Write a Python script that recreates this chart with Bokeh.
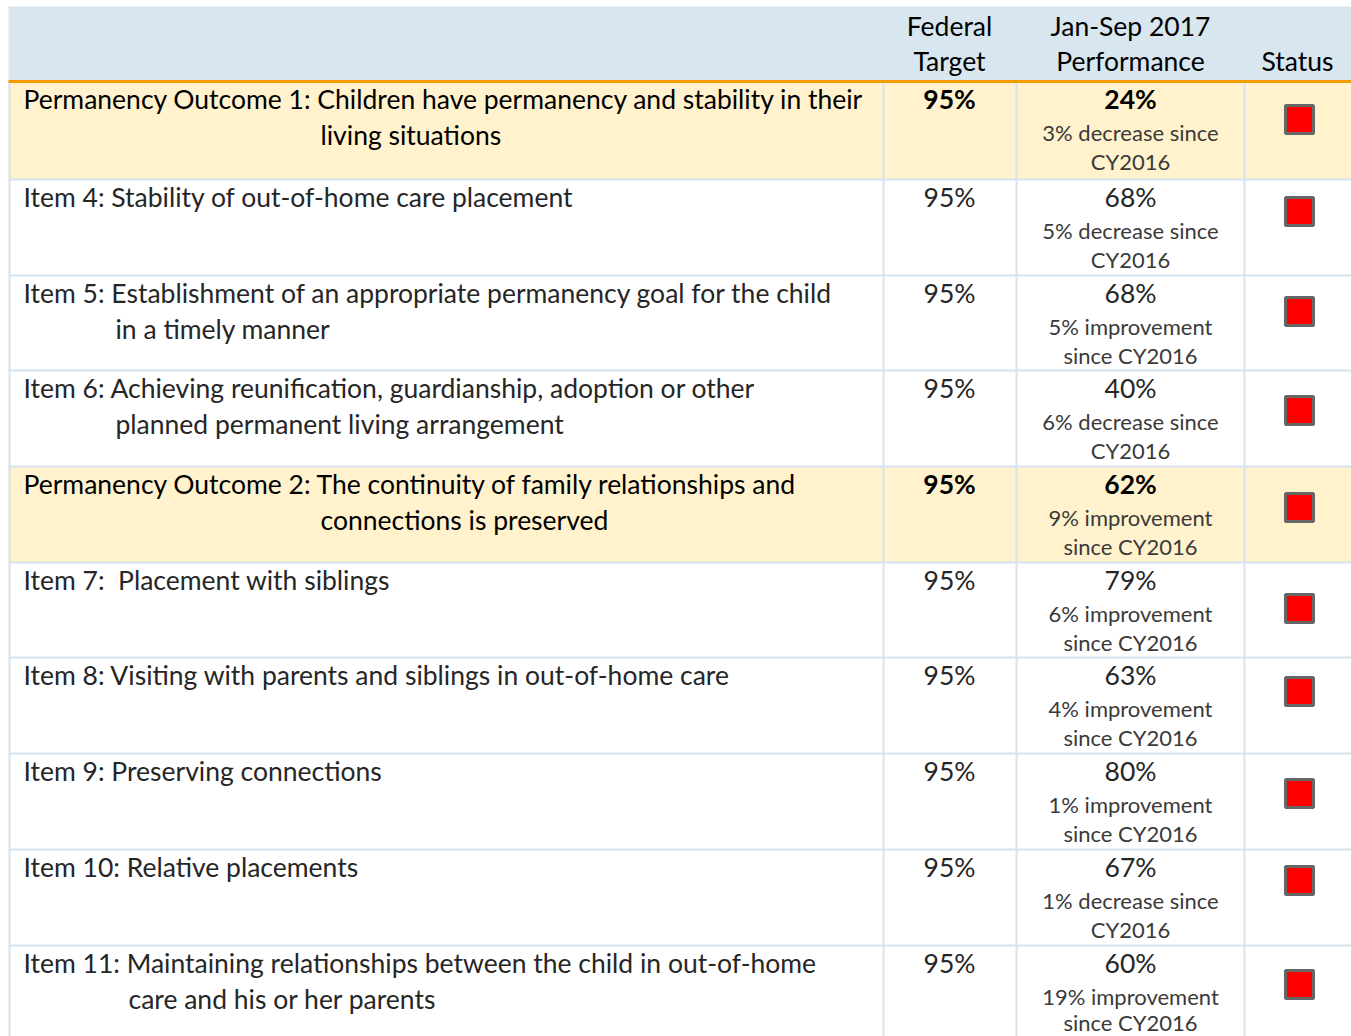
from bokeh.plotting import figure
from bokeh.models import Range1d, ColumnDataSource
from bokeh.core.properties import value
from bokeh.embed import file_html
from bokeh.resources import INLINE

# ---------------- data ----------------
header_cols = [["Federal", "Target"], ["Jan-Sep 2017", "Performance"], ["Status"]]

row_lines = [
    ["Permanency Outcome 1: Children have permanency and stability in their", "living situations"],
    ["Item 4: Stability of out-of-home care placement"],
    ["Item 5: Establishment of an appropriate permanency goal for the child", "in a timely manner"],
    ["Item 6: Achieving reunification, guardianship, adoption or other", "planned permanent living arrangement"],
    ["Permanency Outcome 2: The continuity of family relationships and", "connections is preserved"],
    ["Item 7:\u00a0 Placement with siblings"],
    ["Item 8: Visiting with parents and siblings in out-of-home care"],
    ["Item 9: Preserving connections"],
    ["Item 10: Relative placements"],
    ["Item 11: Maintaining relationships between the child in out-of-home", "care and his or her parents"],
]
is_outcome = [True, False, False, False, True, False, False, False, False, False]
federal_target = [95, 95, 95, 95, 95, 95, 95, 95, 95, 95]
performance = [24, 68, 68, 40, 62, 79, 63, 80, 67, 60]
change_pct = [3, 5, 5, 6, 9, 6, 4, 1, 1, 19]
change_dir = ["decrease", "decrease", "improvement", "decrease", "improvement",
              "improvement", "improvement", "improvement", "decrease", "improvement"]
status = ["red"] * 10

# ---------------- layout ----------------
FONT = "Lato"
W, H = 1351, 1036
X0, X1 = 8, 1351
col_edges = [8, 883, 1016, 1244]
header_top, header_bottom = 6, 81
row_heights = [98, 96, 95, 96, 96, 95, 96, 96, 96, 100]
indent2 = [320, None, 115, 115, 320, None, None, None, None, 128]
status_off = [38, 32, 36, 40, 41, 46, 34, 40, 31, 39]

BLUE_BG = "#d7e6ef"
GRID = "#d5e4ee"
YELLOW = "#fff2cc"
ORANGE = "#f59a00"

row_tops = []
t = header_bottom
for h in row_heights:
    row_tops.append(t)
    t += h

p = figure(width=W, height=H, x_range=Range1d(0, W), y_range=Range1d(H, 0),
           output_backend="svg", toolbar_location=None, min_border=0)
p.axis.visible = False
p.grid.visible = False
p.outline_line_color = None
p.background_fill_color = "white"
p.border_fill_color = "white"

# header background
p.quad(left=[X0], right=[X1], top=[header_top], bottom=[header_bottom],
       fill_color=BLUE_BG, line_color=None)

# outcome row backgrounds
oq = dict(left=[], right=[], top=[], bottom=[])
for i, o in enumerate(is_outcome):
    if o:
        oq["left"].append(X0)
        oq["right"].append(X1)
        oq["top"].append(row_tops[i])
        oq["bottom"].append(row_tops[i] + row_heights[i])
p.quad(source=ColumnDataSource(oq), left="left", right="right", top="top", bottom="bottom",
       fill_color=YELLOW, line_color=None)

# grid lines
seg = dict(x0=[], y0=[], x1=[], y1=[])
for i in range(1, len(row_tops)):
    seg["x0"].append(X0); seg["x1"].append(X1)
    seg["y0"].append(row_tops[i]); seg["y1"].append(row_tops[i])
for x in col_edges:
    xx = x + 1 if x == X0 else x
    seg["x0"].append(xx); seg["x1"].append(xx)
    seg["y0"].append(header_bottom); seg["y1"].append(H + 2)
p.segment(source=ColumnDataSource(seg), x0="x0", y0="y0", x1="x1", y1="y1",
          line_color=GRID, line_width=2)

# orange header rule
p.segment(x0=[X0], y0=[header_bottom], x1=[X1], y1=[header_bottom],
          line_color=ORANGE, line_width=3)

# header text
hx = [949, 1130, 1297]
htxt = dict(x=[], y=[], t=[])
for c, lines in enumerate(header_cols):
    n = len(lines)
    for k, s in enumerate(lines):
        htxt["x"].append(hx[c])
        htxt["y"].append(60 - (n - 1 - k) * 35)
        htxt["t"].append(s)
p.text(source=ColumnDataSource(htxt), x="x", y="y", text="t", text_align="center",
       text_baseline="middle", text_font=value(FONT), text_font_size="26.5px",
       text_color="#000000")

# row texts
lab = {True: dict(x=[], y=[], t=[]), False: dict(x=[], y=[], t=[])}
vals = {True: dict(x=[], y=[], t=[]), False: dict(x=[], y=[], t=[])}
subs = dict(x=[], y=[], t=[])
sq = dict(x=[], y=[], c=[])
for i, lines in enumerate(row_lines):
    top = row_tops[i]
    o = is_outcome[i]
    for k, s in enumerate(lines):
        lab[o]["x"].append(23 if k == 0 else indent2[i])
        lab[o]["y"].append(top + 17 + 36 * k)
        lab[o]["t"].append(s)
    vals[o]["x"] += [949, 1130]
    vals[o]["y"] += [top + 17, top + 17]
    vals[o]["t"] += [f"{federal_target[i]}%", f"{performance[i]}%"]
    if change_dir[i] == "decrease":
        sl = [f"{change_pct[i]}% decrease since", "CY2016"]
    else:
        sl = [f"{change_pct[i]}% improvement", "since CY2016"]
    for k, s in enumerate(sl):
        subs["x"].append(1130)
        subs["y"].append(min(top + 51 + 29 * k, H - 14))
        subs["t"].append(s)
    sq["x"].append(1299)
    sq["y"].append(top + status_off[i])
    sq["c"].append(status[i])

for o in (True, False):
    col = "#000000" if o else "#262626"
    p.text(source=ColumnDataSource(lab[o]), x="x", y="y", text="t", text_align="left",
           text_baseline="middle", text_font=value(FONT), text_font_size="26.5px",
           text_color=col)
    p.text(source=ColumnDataSource(vals[o]), x="x", y="y", text="t", text_align="center",
           text_baseline="middle", text_font=value(FONT), text_font_size="26.5px",
           text_color=col, text_font_style="bold" if o else "normal")

p.text(source=ColumnDataSource(subs), x="x", y="y", text="t", text_align="center",
       text_baseline="middle", text_font=value(FONT), text_font_size="22px",
       text_color="#3a3a3a")

p.rect(source=ColumnDataSource(sq), x="x", y="y", width=28, height=28,
       fill_color="c", line_color="#676767", line_width=3)

open("out.html", "w").write(file_html(p, INLINE))
